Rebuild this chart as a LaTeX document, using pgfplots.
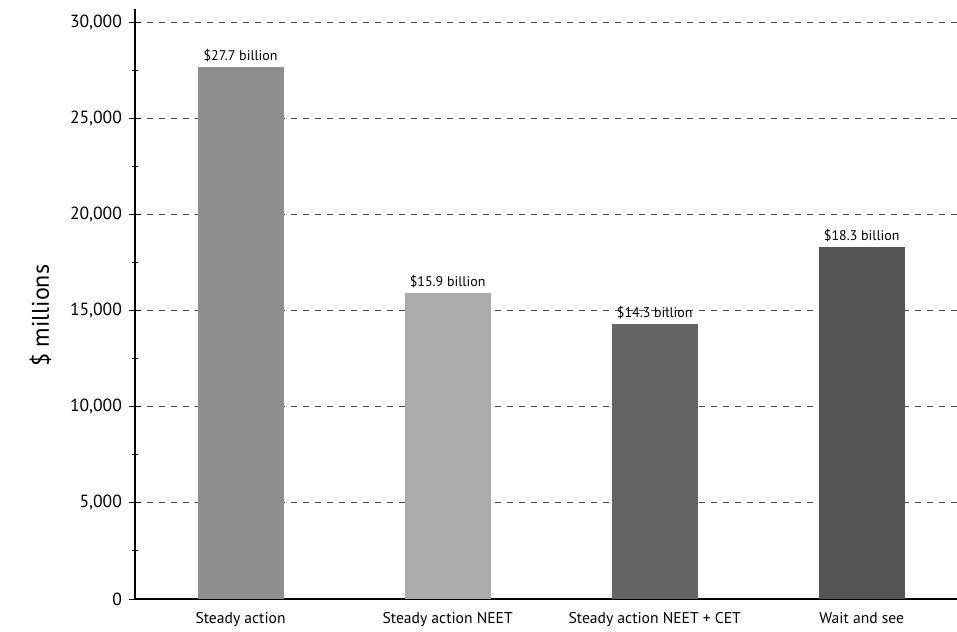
\documentclass[border=0pt]{standalone}
\usepackage{pgfplots}
\pgfplotsset{compat=1.18}
\usepackage{fontspec}
\setmainfont{PT Sans}

\definecolor{barA}{HTML}{8E8E8E}
\definecolor{barB}{HTML}{ABABAB}
\definecolor{barC}{HTML}{646464}
\definecolor{barD}{HTML}{545454}

\begin{document}
\begin{tikzpicture}
\useasboundingbox (-67.5pt,-16pt) rectangle (411pt,299.5pt);
\begin{axis}[
  at={(0,0)}, anchor=south west,
  scale only axis,
  width=411pt, height=295pt,
  xmin=-0.51, xmax=3.46,
  ymin=0, ymax=30700,
  axis x line=bottom, axis y line=left,
  axis line style={black, line width=0.8pt, -},
  xtick={0,1,2,3},
  xticklabels={Steady action, Steady action NEET, Steady action NEET + CET, Wait and see},
  x tick style={draw=none},
  ytick={0,5000,...,30000},
  minor y tick num=1,
  y tick style={black, line width=0.5pt},
  tick align=center,
  major tick length=6pt, minor tick length=3pt,
  scaled y ticks=false,
  /pgf/number format/assume math mode=true,
  yticklabel style={/pgf/number format/.cd, fixed, 1000 sep={,}},
  ymajorgrids,
  major grid style={gray!60!black, dashed, line width=0.5pt},
  tick label style={font=\fontsize{8.8}{10}\selectfont},
  xticklabel style={font=\fontsize{7.8}{9}\selectfont, yshift=3pt},
  ylabel={\$ millions},
  ylabel style={at={(axis description cs:-0.115,0.48)}, anchor=center, font=\fontsize{12}{14}\selectfont},
  ybar, bar width=43pt, bar shift=0pt,
  nodes near coords={\$\pgfplotspointmeta\ billion},
  point meta=explicit symbolic,
  every node near coord/.append style={font=\fontsize{7}{8}\selectfont, black, yshift=-1pt},
  axis on top=false,
]
\addplot[fill=barA, draw=none] coordinates {(0,27700) [27.7]};
\addplot[fill=barB, draw=none] coordinates {(1,15900) [15.9]};
\addplot[fill=barC, draw=none] coordinates {(2,14300) [14.3]};
\addplot[fill=barD, draw=none] coordinates {(3,18300) [18.3]};
\end{axis}
\end{tikzpicture}
\end{document}
